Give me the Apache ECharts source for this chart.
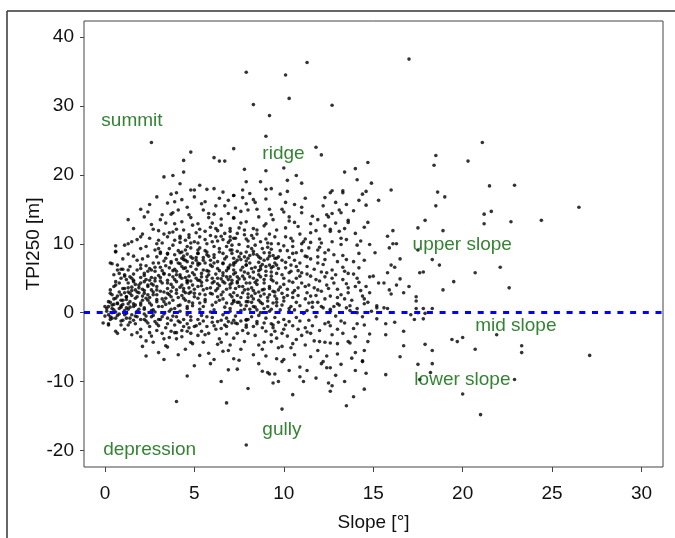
<!DOCTYPE html>
<html>
<head>
<meta charset="utf-8">
<title>TPI250 vs Slope</title>
<script src="https://cdn.jsdelivr.net/npm/echarts@6/dist/echarts.min.js"></script>
<style>
  html, body { margin: 0; padding: 0; background: #fff; }
  #chart { width: 675px; height: 538px; }
</style>
</head>
<body>
<div id="chart"></div>
<script>
// tick labels
var xTicks = [0, 5, 10, 15, 20, 25, 30];
var yTicks = [-20, -10, 0, 10, 20, 30, 40];

// landform class labels: [slope, tpi, text]
var zoneLabels = [
  [-0.2, 27.8, 'summit'],
  [8.8, 23.1, 'ridge'],
  [17.2, 9.9, 'upper slope'],
  [20.7, -1.9, 'mid slope'],
  [17.3, -9.8, 'lower slope'],
  [8.8, -17.0, 'gully'],
  [-0.1, -19.9, 'depression']
];

// [slope, TPI250], by region
var sparseTop = [
  [7.9,34.9],[10.1,34.5],[11.3,36.3],[17.0,36.8],[8.3,30.2],[10.3,31.1],[9.2,28.6],[12.7,30.1],
  [2.6,24.7],[4.8,23.3],[4.4,22.1],[6.1,22.5],[6.4,22.0],[6.7,22.0],[7.2,23.8],[9.0,25.6],
  [11.8,24.0],[3.3,19.7],[3.8,19.9],[4.4,20.4],[14.9,18.8],[21.1,24.7]
];

var sparseRight = [
  [18.5,22.8],[18.4,21.4],[20.3,22.0],[16.0,17.8],[18.6,17.5],[19.0,16.8],[18.5,15.5],[21.5,18.4],
  [22.9,18.5],[26.5,15.3],[21.2,14.3],[21.6,14.7],[21.2,12.9],[22.7,13.2],[24.4,13.4],[17.9,13.4],
  [17.5,12.3],[18.9,11.9],[16.1,11.9],[15.8,11.1],[15.9,9.4],[16.1,10.0],[16.3,10.0],[17.5,9.1],
  [16.5,7.8],[18.3,7.7],[16.0,6.9],[16.2,6.6],[18.7,6.9],[22.1,6.6],[17.6,5.8],[17.8,5.9],
  [20.7,5.8],[19.5,4.5],[16.5,4.9],[15.6,4.3],[16.3,4.0],[17.0,3.8],[18.9,3.3],[22.6,3.6],
  [15.9,3.3],[16.0,2.7],[16.7,2.9],[17.4,2.3],[17.4,1.7],[15.6,0.7],[15.8,0.6],[17.4,0.6],
  [17.8,0.6],[18.3,0.6],[17.1,-0.3],[17.5,0.0],[17.9,-0.1],[17.3,-1.0],[17.8,-0.9],[15.7,-1.6],
  [16.2,-1.4],[15.7,-3.2],[16.7,-2.7],[21.9,-3.2],[19.4,-3.9],[19.7,-4.2],[20.0,-3.6],[17.9,-4.6],
  [16.7,-4.8],[20.7,-5.3],[18.3,-5.5],[23.3,-4.8],[23.3,-5.8],[27.1,-6.2],[16.5,-6.4],[17.5,-7.5],
  [18.3,-7.4],[18.2,-8.7],[15.7,-9.0],[17.6,-9.7],[22.9,-9.7],[20.0,-11.8],[21.0,-14.8]
];

var upperLeft = [
  [4.2,18.7],[5.3,18.5],[6.1,18.0],[4.8,17.8],[5.0,17.8],[5.7,17.9],[4.0,17.4],[6.6,17.5],[7.2,17.0],
  [3.5,15.9],[2.5,15.7],[2.0,15.0],[3.2,14.2],[3.7,14.3],[3.8,14.5],[4.7,14.2],[4.8,13.8],[5.5,14.9],
  [5.8,13.8],[6.2,15.5],[6.7,15.5],[6.9,14.4],[7.2,13.8],[1.3,13.5],[1.6,12.2],[2.1,11.4],[2.0,11.0],
  [1.8,10.6],[1.5,10.3],[1.3,10.0],[0.6,9.7],[0.6,8.9],[1.1,9.8],[2.0,9.3],[3.0,11.9],[3.3,11.4],
  [3.6,11.6],[3.8,11.7],[4.0,12.1],[4.4,12.0],[4.7,11.3],[5.0,10.3],[2.9,10.0],[3.0,10.5],[3.5,11.0],
  [3.9,10.5],[4.2,10.2],[4.5,10.5],[4.8,10.1],[5.2,12.9],[5.3,12.1],[5.6,10.6],[5.7,10.0],[6.0,13.0],
  [6.2,12.2],[6.5,12.7],[6.7,11.5],[7.0,12.2],[7.2,10.8],[6.3,10.4],[6.1,9.6],[6.8,9.6],[0.4,7.1],
  [0.7,6.2],[0.9,6.3],[1.3,6.2],[1.1,5.5],[1.5,5.0],[2.0,6.4],[2.3,6.8],[2.6,6.2],[3.1,6.6],
  [3.3,7.5],[3.7,7.2],[4.0,7.7],[4.2,7.1],[4.4,7.7],[4.8,8.1],[5.1,7.6],[5.3,7.1],[5.6,7.2],
  [6.0,6.7],[6.3,7.4],[6.6,7.1],[6.9,6.6],[7.2,6.2],[7.4,7.6],[3.1,8.6],[3.5,8.5],[4.2,8.7],
  [5.2,8.6],[5.7,8.4],[6.4,8.8],[7.1,8.6],
  [0.5,3.8],[0.8,3.0],[0.4,2.6],[0.2,0.9],[0.4,0.6],[0.7,1.3],[0.9,1.8],[1.2,2.3],[1.4,2.8],
  [1.7,3.3],[1.9,4.0],[2.2,4.5],[2.5,4.7],[1.6,4.7],[1.3,4.3],[1.1,3.5],[1.8,2.3],[2.1,1.8],
  [2.4,2.6],[2.7,3.0],[2.9,3.8],[3.2,4.3],[3.5,4.7],[3.8,5.2],[4.0,5.5],[4.3,5.0],[4.6,4.5],
  [4.9,4.0],[5.2,4.7],[5.4,5.2],[5.7,4.7],[6.0,4.3],[6.3,5.0],[6.6,4.5],[6.8,5.2],[7.1,4.7],[7.4,4.3]
];

var upperMid = [
  [12.1,22.9],[14.7,21.8],[7.8,20.8],[9.0,20.6],[10.0,21.0],[10.7,19.9],[13.4,20.4],[14.0,20.9],
  [14.1,19.3],[7.9,19.0],[8.7,19.0],[10.2,19.2],[11.0,18.8],[7.7,17.8],[9.0,17.9],[9.3,18.0],
  [7.2,17.0],[7.7,16.7],[8.3,16.4],[8.4,16.0],[12.6,17.4],[12.7,17.7],[12.3,16.7],[13.3,17.7],
  [13.3,17.4],[14.4,17.2],[14.6,17.6],[15.3,16.3],[7.6,14.7],[8.0,14.9],[8.5,15.0],[9.2,15.0],
  [9.3,14.2],[10.1,16.0],[9.9,15.0],[10.0,14.6],[10.6,15.7],[11.0,15.3],[11.0,14.5],[10.3,13.9],
  [11.6,14.0],[11.5,12.9],[12.4,14.2],[12.5,13.9],[12.7,14.4],[13.1,14.9],[13.2,14.5],[13.6,13.1],
  [13.6,13.4],[13.9,14.8],[14.6,15.6],[7.2,13.7],[7.9,13.2],[8.3,12.2],[7.8,12.0],[8.5,12.0],
  [8.9,12.6],[9.0,12.9],[10.1,12.3],[10.3,13.3],[10.8,12.5],[7.0,11.8],[7.3,10.8],[7.9,10.7],
  [8.3,10.8],[9.1,10.1],[9.3,10.0],[9.7,10.0],[10.4,10.8],[11.1,10.3],[11.2,10.7],[12.0,10.7],
  [12.6,12.1],[12.6,11.8],[13.1,11.8],[13.2,10.8],[13.2,9.9],[14.1,9.8],[14.7,13.1],[15.1,8.7],
  [14.2,8.6],[13.5,7.7],[12.5,9.1],[12.3,8.7],[11.9,9.1],[11.2,8.2],[11.3,8.1],[10.7,8.7],
  [10.5,8.6],[10.3,8.0],[9.7,8.1],[9.5,7.9],[9.2,8.2],[8.9,8.7],[8.6,8.1],[8.3,8.9],[8.0,7.9],
  [7.8,8.1],[7.4,8.9],[7.1,9.8],[7.1,9.1]
];

var lowerMid = [
  [7.2,7.2],[7.6,7.7],[7.9,6.9],[8.1,7.2],[8.4,6.6],[8.7,6.7],[8.9,7.6],[9.2,6.9],[9.4,6.7],
  [9.6,6.9],[10.1,6.5],[10.4,6.9],[10.7,6.7],[10.9,7.2],[11.3,6.7],[11.9,7.2],[12.3,7.7],[12.7,6.2],
  [13.0,7.4],[13.4,6.0],[13.6,5.7],[14.1,5.0],[14.6,3.8],[15.3,4.3],[15.0,5.3],[15.8,5.8],
  [7.3,5.8],[7.7,5.3],[8.0,5.7],[8.3,5.0],[8.6,5.5],[8.9,4.8],[9.3,5.3],[9.6,5.7],[10.0,5.0],
  [10.3,5.8],[10.7,5.0],[11.0,5.8],[11.5,5.3],[12.0,4.6],[12.4,5.8],[12.8,4.3],[13.3,4.8],
  [7.1,4.3],[7.5,3.8],[7.9,4.3],[8.2,3.6],[8.5,4.1],[8.9,3.4],[9.2,3.8],[9.4,3.1],[9.8,3.7],
  [10.2,3.4],[10.5,2.9],[10.8,3.6],[11.3,2.9],[11.7,3.6],[12.1,3.1],[12.6,2.4],[13.0,3.4],[13.6,2.9],
  [14.0,3.8],[14.4,2.4],[14.8,2.9],[7.2,2.9],[7.6,2.2],[8.0,2.7],[8.3,2.0],[8.7,2.4],[9.1,1.7],
  [9.5,2.4],[10.0,1.7],[10.5,2.2],[10.7,1.5],[11.2,2.0],[11.9,1.5],[12.3,2.0],[13.0,1.3],[13.4,2.0],
  [13.7,1.0],[14.5,1.3],[15.2,1.0],[7.4,1.5],[7.9,1.0],[8.4,0.8],[8.9,0.6],[9.6,1.0],[10.3,0.6],
  [11.6,0.8],[12.6,0.5],[14.1,0.6]
];

var belowMid = [
  [7.2,1.6],[7.5,1.5],[8.0,1.6],[8.2,1.5],[8.8,1.3],[9.6,1.5],[9.9,1.1],[10.4,0.9],[10.9,1.0],
  [11.6,1.5],[12.2,0.7],[12.8,0.9],[13.1,1.1],[13.5,0.7],[14.7,1.5],[15.2,0.7],
  [7.0,0.2],[8.7,0.0],[10.3,0.2],[11.1,-0.1],[12.6,0.2],[14.1,0.0],[14.9,0.2],
  [7.2,-1.1],[7.4,-1.6],[7.9,-1.1],[7.9,-1.8],[8.0,-1.0],[8.3,-2.0],[8.5,-1.6],[8.9,-1.5],[9.0,-2.7],
  [9.3,-1.6],[9.5,-2.7],[9.7,-1.4],[10.0,-1.0],[10.5,-1.9],[10.8,-2.4],[11.2,-2.2],[11.5,-3.0],
  [12.0,-4.2],[12.3,-1.6],[12.5,-1.4],[13.0,-2.4],[13.4,-1.5],[14.1,-1.6],[14.5,-1.8],[14.8,-3.1],
  [15.2,-0.9],[7.0,-4.7],[7.8,-4.2],[8.8,-5.3],[9.3,-3.2],[9.6,-3.7],[9.7,-5.1],[9.9,-4.9],
  [10.4,-5.1],[10.7,-3.9],[11.2,-4.7],[11.9,-5.5],[12.3,-4.3],[12.6,-4.4],[13.0,-4.5],[13.0,-6.0],
  [13.6,-4.2],[13.7,-4.4],[14.0,-5.8],[14.5,-5.5],[14.4,-7.1],[7.2,-6.7],[7.5,-6.9],[7.4,-8.2],
  [8.6,-7.4],[8.8,-8.5],[9.1,-8.7],[9.2,-8.9],[9.5,-8.9],[9.9,-7.1],[10.0,-6.8],[10.9,-7.9],
  [11.3,-8.4],[12.1,-7.4],[12.2,-7.1],[12.4,-8.0],[12.6,-8.0],[13.4,-10.0],[14.0,-8.4],[14.4,-7.0],
  [8.0,-11.0],[9.4,-10.2],[9.7,-10.0],[10.9,-9.3],[11.1,-10.0],[12.5,-10.2],[12.7,-10.6],[12.6,-11.4],
  [14.5,-11.1],[10.5,-11.9],[9.9,-14.0],[13.5,-13.5],[7.9,-19.2]
];

var belowLeft = [
  [-0.1,-1.5],[0.2,-1.6],[0.6,-2.7],[0.7,-3.0],[1.0,-1.1],[1.2,-0.8],[1.4,-1.4],[1.5,-3.2],[1.7,-1.6],
  [2.0,-2.4],[2.0,-3.5],[2.1,-4.9],[2.3,-6.3],[2.4,-1.5],[2.5,-2.9],[2.6,-3.4],[2.7,-4.3],[3.0,-1.9],
  [3.0,-5.8],[3.2,-3.0],[3.4,-4.8],[3.5,-5.0],[3.7,-2.7],[3.9,-2.9],[4.0,-2.9],[4.0,-3.8],[4.2,-1.4],
  [4.4,-2.0],[4.6,-2.7],[4.8,-3.0],[4.8,-4.3],[4.9,-4.5],[5.1,-1.9],[5.3,-1.6],[5.4,-2.7],[5.5,-4.3],
  [5.7,-2.0],[5.8,-5.9],[6.0,-1.4],[6.2,-2.4],[6.4,-3.8],[6.6,-5.6],[6.5,-10.0],[6.8,-3.1],[7.4,-3.0],
  [7.1,-1.5],[5.0,-7.7],[4.6,-9.2],[4.0,-12.9],[6.8,-13.1],[0.9,-1.8],[0.4,-0.8],[3.5,-1.6],[3.7,-1.1],
  [3.1,-1.0],[2.0,-1.0],[2.8,-1.3],[4.8,-1.1],[6.5,-1.1],[6.7,-1.8],[6.8,-2.0]
];

var clusterLeft = [
  [0.6,8.8],[1.3,8.5],[1.6,8.2],[0.3,7.2],[0.7,6.9],[1.0,6.3],[0.8,5.7],[1.1,5.3],[1.4,5.2],
  [1.8,6.2],[2.0,6.9],[2.2,5.7],[2.5,6.4],[2.7,7.2],[2.9,8.1],[3.1,8.8],[3.5,8.6],[3.9,8.4],
  [3.7,7.4],[3.4,6.8],[4.1,7.2],[4.5,7.6],[3.3,5.7],[3.8,6.1],[4.2,5.5],[4.6,6.0],[2.8,5.0],
  [3.1,4.6],[3.5,4.3],[4.0,4.5],[4.3,4.0],[4.6,4.3],[1.6,4.5],[2.0,4.3],[2.4,3.8],[0.6,4.0],
  [1.0,3.5],[1.3,3.0],[1.5,3.7],[1.8,3.0],[2.2,2.8],[2.6,3.3],[2.9,2.6],[3.3,3.0],[3.7,2.3],
  [4.0,2.8],[4.4,2.1],[4.7,2.8],[0.3,2.8],[0.6,2.1],[0.2,1.6],[0.4,1.1],[0.7,1.4],[1.0,1.8],
  [1.2,2.3],[1.4,1.6],[1.7,2.1],[2.0,1.4],[2.4,1.8],[2.6,1.1],[2.9,1.6],[3.2,0.9],[3.6,1.4],
  [3.9,0.6],[4.2,1.1],[4.6,0.9],[0.1,0.6],[0.5,0.4],[0.9,0.8],[1.3,0.5],[1.6,0.9],[2.2,0.5],
  [2.7,0.4],[3.7,0.5],[0.0,-0.5],[0.3,-0.6],[0.6,-0.8],[1.1,-0.3],[1.4,-0.8],[1.8,-0.6],[2.2,-1.0],
  [2.6,-0.6],[3.0,-1.0],[3.5,-0.8],[4.0,-0.6],[4.4,-1.0],[0.2,-1.8],[1.3,-1.8],[2.5,-2.0],[3.9,-1.8],
  [4.6,-1.6],
  [0.1,0.2],[0.3,1.5],[0.5,2.0],[0.6,0.1],[0.8,0.6],[0.9,2.6],[1.0,1.2],[1.1,0.3],[1.2,1.9],
  [1.3,3.6],[1.4,0.8],[1.5,2.5],[1.6,1.3],[1.7,4.1],[1.8,0.2],[1.9,2.9],[2.0,1.1],[2.1,3.4],
  [2.2,0.7],[2.3,2.1],[2.4,4.0],[2.5,1.4],[2.6,0.3],[2.7,2.6],[2.8,4.6],[2.9,1.9],[3.0,0.9],
  [3.1,3.1],[3.2,2.0],[3.3,5.6],[3.4,1.2],[3.5,3.5],[3.6,2.6],[3.7,4.1],[3.8,1.8],[3.9,6.3],
  [4.0,3.3],[4.1,1.0],[4.3,2.5],[4.5,6.5],[4.7,3.6],[4.9,5.8],[5.0,2.3],[5.2,6.9],[5.4,3.9],
  [5.6,1.9],[5.8,6.0],[6.0,2.7],[6.2,5.6],[6.4,3.9],[6.6,2.0],[6.8,6.1],[7.0,3.6],[0.2,-0.3],
  [0.7,-0.4],[1.2,-0.1],[1.7,-0.5],[2.2,-0.2],[2.7,-0.4],[3.3,-0.2],[3.8,-0.5],[0.0,0.9],[0.3,3.3],
  [0.6,4.5],[0.9,5.0],[1.4,6.7],[1.8,7.6],[2.4,8.2],[2.8,9.1],[1.0,7.8],[0.5,5.5],[2.2,5.4],
  [2.6,5.1],[3.0,7.2],[3.6,9.3],[4.1,9.0],[4.6,9.6],[5.3,9.4],[5.9,11.2],[6.3,11.9],[6.9,10.2],
  [7.4,11.5],[5.1,11.6],[4.3,13.2],[3.4,13.0],[2.6,12.8],[2.2,13.9],[2.9,16.8],[3.7,17.2],[5.6,16.1],
  [6.4,16.6]
];

var clusterMid = [
  [4.3,8.8],[4.6,7.4],[4.9,7.9],[5.2,8.6],[5.7,8.8],[6.1,8.4],[6.6,8.6],[7.0,9.1],[7.5,8.1],
  [7.9,8.8],[8.3,8.5],[8.7,7.9],[9.2,8.7],[9.6,7.9],[4.4,6.4],[4.8,6.7],[5.2,7.2],[5.5,6.2],
  [5.9,6.9],[6.3,6.4],[6.6,7.2],[6.9,6.4],[7.2,6.9],[7.6,6.2],[7.9,6.9],[8.2,6.4],[8.6,6.1],
  [9.0,6.7],[9.3,5.9],[9.7,6.4],[4.2,5.2],[4.6,4.7],[5.0,5.5],[5.3,4.7],[5.7,5.2],[6.1,4.5],
  [6.5,4.9],[6.7,4.3],[7.0,5.2],[7.4,4.5],[7.8,4.9],[8.1,4.3],[8.5,4.7],[8.9,4.3],[9.3,4.8],
  [9.6,4.3],[4.4,3.5],[4.8,3.0],[5.2,3.8],[5.5,3.3],[5.9,2.8],[6.3,3.5],[6.6,3.0],[7.0,2.6],
  [7.3,3.5],[7.7,2.9],[8.0,3.4],[8.4,2.8],[8.8,3.3],[9.2,2.6],[9.5,3.0],[4.5,1.8],[4.9,1.4],
  [5.2,2.1],[5.6,1.6],[6.0,1.1],[6.4,1.8],[6.8,1.4],[7.2,1.8],[7.6,1.1],[7.9,1.6],[8.3,0.9],
  [8.7,1.5],[9.1,0.9],[9.4,1.4],[4.6,0.6],[5.3,0.5],[6.1,0.4],[7.0,0.6],[7.8,0.5],[8.5,0.4],
  [9.3,0.5],[4.8,-0.6],[5.2,-1.0],[5.7,-0.6],[6.3,-1.3],[6.8,-0.8],[7.3,-1.5],[7.9,-1.0],[8.5,-1.3],
  [9.0,-0.8],[9.4,-1.8],[5.0,-2.0],[6.5,-2.3],[7.9,-2.1]
];

var fillCloud = [
  [2.1,7.8],[2.3,9.6],[2.5,10.8],[2.7,12.1],[2.8,6.0],[3.0,9.3],[3.2,10.1],[3.4,7.9],[3.6,6.5],
  [3.8,9.8],[3.9,12.9],[2.4,14.6],[3.1,13.5],[3.9,16.1],[2.2,3.2],[2.6,4.2],[3.0,5.4],[3.4,2.1],
  [3.8,3.7],[2.9,-2.6],[3.6,-3.6],[2.3,-4.1],[3.3,-6.8],
  [4.1,14.9],[4.3,16.4],[4.6,15.3],[5.0,16.8],[5.4,15.8],[5.8,14.4],[4.2,11.1],[4.5,9.1],[4.9,12.7],
  [5.3,11.0],[5.6,9.0],[5.9,12.4],[4.4,8.2],[4.8,9.4],[5.1,8.0],[5.5,8.0],[5.9,7.6],[4.3,6.7],
  [4.7,5.3],[5.1,6.3],[5.4,5.7],[5.8,5.5],[4.5,2.9],[5.0,3.4],[5.3,2.7],[5.7,3.5],[4.2,0.2],
  [4.9,1.0],[5.5,0.9],[5.9,0.1],[4.6,-0.3],[5.4,-0.4],[4.3,-2.6],[5.2,-3.3],[5.6,-3.2],[4.5,-5.3],
  [5.3,-6.2],[5.9,-7.4],[4.1,-6.1],
  [6.1,14.3],[6.5,13.6],[6.9,16.3],[7.3,15.2],[7.6,13.0],[7.9,15.8],[6.2,11.0],[6.6,10.6],[7.0,11.0],
  [7.5,9.9],[7.8,11.3],[6.1,8.0],[6.4,6.1],[6.8,8.1],[7.2,7.9],[7.7,6.6],[6.2,3.2],[6.6,5.8],
  [7.0,4.1],[7.4,5.2],[7.8,3.3],[6.3,2.3],[6.7,0.8],[7.1,2.3],[7.6,0.3],[6.0,-0.7],[6.6,-0.3],
  [7.3,-0.5],[7.7,-2.6],[6.3,-4.6],[6.9,-5.5],[7.6,-5.3],[6.1,-6.8],[6.9,-8.3],
  [8.1,17.3],[8.6,13.9],[9.0,16.5],[9.4,13.5],[9.8,17.2],[8.2,11.2],[8.7,10.3],[9.2,11.4],[9.6,12.0],
  [8.0,9.6],[8.4,9.8],[8.8,9.3],[9.3,9.2],[9.8,9.0],[8.1,8.3],[8.6,7.3],[9.1,7.8],[9.5,7.2],
  [9.9,7.6],[8.3,5.9],[8.7,5.2],[9.0,6.0],[9.4,4.6],[9.9,5.5],[8.2,2.4],[8.6,3.0],[9.1,2.2],
  [9.6,2.0],[9.9,2.8],[8.1,0.5],[8.6,-0.4],[9.2,0.2],[9.8,0.4],[8.4,-3.3],[8.9,-4.3],[9.4,-2.2],
  [9.9,-3.0],[8.3,-6.1],[9.0,-6.3],[9.6,-6.7],
  [10.2,17.6],[10.6,13.1],[11.2,16.6],[11.5,11.6],[11.9,13.5],[10.1,11.0],[10.5,9.6],[10.9,11.4],
  [11.4,9.4],[11.8,11.9],[10.2,9.0],[10.6,7.6],[11.0,9.0],[11.5,7.8],[11.9,8.1],[10.1,7.3],
  [10.4,6.0],[10.8,6.1],[11.3,5.6],[11.7,6.3],[10.0,4.1],[10.5,4.4],[11.0,4.3],[11.4,4.0],
  [11.9,3.3],[10.2,2.5],[10.8,2.5],[11.4,1.4],[11.8,2.5],[10.6,0.4],[11.3,0.3],[11.8,-0.6],
  [10.3,-1.3],[10.9,-1.2],[11.6,-1.9],[10.2,-3.4],[11.0,-3.3],[11.7,-4.1],[10.6,-6.1],[11.5,-6.4],
  [10.3,-8.4],[11.8,-9.5],
  [12.2,15.5],[12.9,16.0],[13.5,15.7],[14.2,16.3],[12.3,12.6],[12.9,13.0],[13.4,12.2],[14.0,11.5],
  [14.5,12.4],[12.1,10.1],[12.7,10.3],[13.5,10.6],[14.3,10.4],[14.8,9.9],[12.2,7.0],[12.8,8.4],
  [13.3,8.3],[13.9,7.4],[14.5,7.6],[12.3,5.2],[12.9,5.5],[13.5,4.2],[14.2,6.5],[14.8,5.2],
  [12.5,3.5],[13.2,2.6],[13.8,1.8],[14.3,3.2],[12.1,0.9],[12.9,-0.5],[13.7,0.3],[14.4,-0.6],
  [12.7,-3.2],[13.3,-3.0],[14.0,-3.5],[14.7,-4.2],[12.4,-6.3],[13.2,-7.5],[13.8,-6.6],[14.6,-8.8],
  [12.9,-9.1],[13.9,-12.2]
];

// densest core of the cloud, second pass
var denseCore = [
  [0.4,0.0],[0.8,-0.2],[1.2,0.7],[1.5,-0.3],[1.9,0.5],[2.3,-0.5],[2.8,0.1],[3.2,-0.6],[3.6,0.2],
  [0.5,1.2],[0.9,1.0],[1.3,1.3],[1.7,1.1],[2.1,2.4],[2.5,2.2],[2.9,3.3],[3.3,1.6],[3.7,3.1],
  [0.7,2.4],[1.1,2.9],[1.5,3.2],[1.9,3.6],[2.3,4.8],[2.7,4.0],[3.1,5.1],[3.5,2.8],[3.9,4.8],
  [0.8,4.3],[1.2,4.8],[1.6,5.6],[2.0,5.1],[2.4,6.0],[2.8,6.6],[3.2,6.1],[3.6,5.5],[4.0,6.0],
  [4.2,3.7],[4.5,5.1],[4.8,4.6],[5.1,5.0],[5.4,4.4],[5.7,6.1],[6.0,5.0],[6.3,4.2],[6.6,5.4],
  [6.9,4.8],[7.2,5.6],[7.5,4.9],[7.8,5.9],[8.1,5.2],[8.4,4.4],[8.7,6.3],[9.0,5.4],[9.3,6.5],
  [4.1,2.2],[4.4,3.1],[4.7,1.6],[5.0,2.8],[5.3,1.4],[5.6,2.6],[5.9,3.6],[6.2,1.5],[6.5,2.6],
  [6.8,3.4],[7.1,1.3],[7.4,2.5],[7.7,3.8],[8.0,2.2],[8.3,3.2],[8.6,1.8],[8.9,2.7],[9.2,3.5],
  [4.3,7.9],[4.6,8.5],[4.9,7.2],[5.2,9.1],[5.5,7.6],[5.8,8.2],[6.1,7.2],[6.4,9.3],[6.7,7.8],
  [7.0,6.9],[7.3,7.3],[7.6,8.6],[7.9,7.5],[8.2,9.3],[8.5,8.4],[8.8,7.0],[9.1,9.5],[9.4,8.3],
  [4.2,10.8],[4.7,10.9],[5.2,10.1],[5.6,11.8],[6.0,10.3],[6.5,11.1],[7.0,10.5],[7.5,12.3],[8.0,10.4],
  [8.5,11.4],[9.0,10.7],[9.5,11.0],[10.0,9.7],[10.5,10.4],[11.0,10.0],[11.5,10.2],[12.0,9.5],
  [9.7,3.3],[10.0,2.2],[10.3,4.6],[10.6,3.2],[10.9,5.3],[11.2,3.8],[11.5,2.4],[11.8,4.8],[12.1,5.9],
  [12.4,4.0],[12.7,5.0],[13.0,2.2],[13.3,6.6],[13.6,3.6],[13.9,5.6],[14.2,4.4],[14.5,2.0],
  [0.3,-1.0],[0.9,-1.2],[1.6,-1.1],[2.3,-1.2],[2.9,-1.6],[3.4,-2.2],[4.1,-1.2],[4.7,-2.2],[5.5,-1.2],
  [6.1,-1.9],[6.9,-1.3],[7.6,-1.2],[8.2,-0.6],[8.8,-2.2],[9.5,-0.7],[10.1,-1.8],[10.7,-0.7],[11.4,-1.1],
  [1.1,-2.4],[1.8,-2.9],[3.3,-3.8],[4.3,-3.5],[5.8,-3.0],[6.5,-4.3],[7.2,-3.7],[8.0,-3.0],[8.6,-4.7],
  [9.3,-4.2],[10.0,-2.4],[10.5,-4.5],[11.3,-2.8],[12.0,-2.6],[12.6,-1.9],[13.2,-1.2],[13.9,-2.3]
];

var tpiPoints = [].concat(sparseTop, sparseRight, upperLeft, upperMid, lowerMid,
  belowMid, belowLeft, clusterLeft, clusterMid, fillCloud, denseCore);

var font = "'Liberation Sans', Arial, sans-serif";
var labelGreen = '#006400';

var chart = echarts.init(document.getElementById('chart'), null, { renderer: 'canvas' });

var option = {
  animation: false,
  backgroundColor: '#fff',
  textStyle: { fontFamily: font },
  grid: {
    left: 84, right: 12, top: 21, bottom: 71,
    show: true, borderColor: '#444', borderWidth: 1, backgroundColor: 'transparent'
  },
  xAxis: {
    type: 'value',
    min: -1.17,
    max: 31.2,
    name: 'Slope [°]',
    nameLocation: 'middle',
    nameGap: 46,
    nameMoveOverlap: false,
    nameTextStyle: { fontSize: 19, color: '#111', fontFamily: font },
    axisLine: { show: false, onZero: false },
    axisTick: { show: true, length: 5, customValues: xTicks, lineStyle: { color: '#444' } },
    axisLabel: { customValues: xTicks, fontSize: 19, color: '#111', margin: 17, fontFamily: font },
    splitLine: { show: false }
  },
  yAxis: {
    type: 'value',
    min: -22.4,
    max: 42.33,
    name: 'TPI250 [m]',
    nameLocation: 'middle',
    nameGap: 41,
    nameMoveOverlap: false,
    nameTextStyle: { fontSize: 19, color: '#111', fontFamily: font },
    axisLine: { show: false, onZero: false },
    axisTick: { show: true, length: 4, customValues: yTicks, lineStyle: { color: '#444' } },
    axisLabel: { customValues: yTicks, fontSize: 19, color: '#111', margin: 10, fontFamily: font },
    splitLine: { show: false }
  },
  series: [
    {
      name: 'cells',
      type: 'scatter',
      symbol: 'circle',
      symbolSize: 3.6,
      silent: true,
      itemStyle: { color: '#000' },
      data: tpiPoints,
      markLine: {
        silent: true,
        symbol: ['none', 'none'],
        label: { show: false },
        lineStyle: { color: '#0000ff', width: 3, type: [6, 6.7], opacity: 1 },
        data: [{ yAxis: 0 }]
      },
      z: 3
    },
    {
      name: 'zones',
      type: 'scatter',
      symbolSize: 0,
      silent: true,
      data: zoneLabels,
      label: {
        show: true,
        position: 'right',
        distance: 0,
        formatter: function (p) { return p.data[2]; },
        color: labelGreen,
        fontSize: 19,
        fontFamily: font
      },
      z: 4
    }
  ],
  graphic: [
    { type: 'line', shape: { x1: 7, y1: 11, x2: 675, y2: 11 }, style: { stroke: '#333', lineWidth: 1.5 } },
    { type: 'line', shape: { x1: 7, y1: 11, x2: 7, y2: 538 }, style: { stroke: '#333', lineWidth: 1.5 } }
  ]
};

chart.setOption(option);
</script>
</body>
</html>
